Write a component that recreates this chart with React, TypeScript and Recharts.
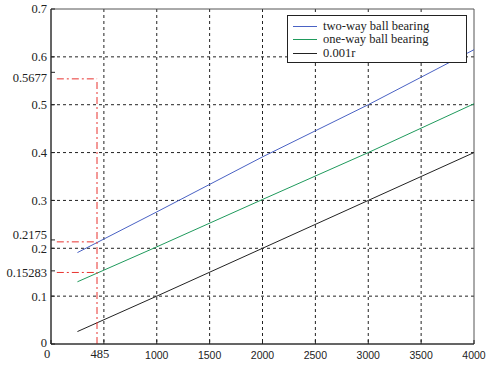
import { LineChart, Line, XAxis, YAxis, CartesianGrid, ReferenceLine, ReferenceArea, Legend } from "recharts";

// shaft speed r (rpm) and friction values
const rValues = [250, 1000, 2000, 3000, 4000];
const twoWay = [0.191, 0.276, 0.391, 0.5, 0.615];
const oneWay = [0.13, 0.203, 0.302, 0.4, 0.502];
const ref001 = [0.026, 0.1, 0.2, 0.3, 0.4];

const xTicks = [0, 500, 1000, 1500, 2000, 2500, 3000, 3500, 4000];
const xTickLabels = ["0", "485", "1000", "1500", "2000", "2500", "3000", "3500", "4000"];
const yTicks = [0, 0.1, 0.15283, 0.2, 0.2175, 0.3, 0.4, 0.5, 0.5677, 0.6, 0.7];
const gridX = [500, 1000, 1500, 2000, 2500, 3000, 3500];
const gridY = [0.1, 0.2, 0.3, 0.4, 0.5, 0.6];

// red dash-dot marker lines (where they sit in the picture)
const markerX = 435;
const markerStartX = 55;
const markerYs = [0.554, 0.2134, 0.1495];

const series = [
  { key: "twoWay", name: "two-way ball bearing", color: "#4a62c4" },
  { key: "oneWay", name: "one-way ball bearing", color: "#1f9a5c" },
  { key: "ref001", name: "0.001r", color: "#222" },
];

const rows = rValues.map((r, i) => ({ r, twoWay: twoWay[i], oneWay: oneWay[i], ref001: ref001[i] }));

const serif = "Liberation Serif, Times New Roman, serif";
const sans = "Liberation Sans Narrow, Liberation Sans, sans-serif";

// the hand-placed labels sit a little off their values in the original
const yLabelNudge: Record<string, number> = { "0": -1.5, "0.2175": -5.5, "0.5677": 5, "0.15283": 1.5 };

function XTick(props: any) {
  const { x, y, payload } = props;
  const idx = xTicks.indexOf(payload.value);
  const label = xTickLabels[idx] ?? String(payload.value);
  const isSerif = idx <= 1;
  return (
    <g>
      <line x1={x} x2={x} y1={y} y2={y - 4} stroke="#222" />
      <text
        x={isSerif ? x - 4 : x}
        y={isSerif ? y + 14 : y + 15}
        textAnchor="middle"
        fontFamily={isSerif ? serif : sans}
        fontSize={isSerif ? 12.5 : 10.5}
        fill="#222"
      >
        {label}
      </text>
    </g>
  );
}

function YTick(props: any) {
  const { x, y, payload } = props;
  const label = String(payload.value);
  const dy = yLabelNudge[label] ?? 0;
  return (
    <g>
      <line x1={x} x2={x + 4} y1={y} y2={y} stroke="#222" />
      <text x={x - 4} y={y + dy} dy="0.35em" textAnchor="end" fontFamily={serif} fontSize={12.5} fill="#222">
        {label}
      </text>
    </g>
  );
}

function LegendBox() {
  return (
    <div
      style={{
        width: 180,
        height: 48,
        border: "1px solid #222",
        background: "#fff",
        boxSizing: "border-box",
        padding: "4px 0 0 5px",
        fontFamily: serif,
        fontSize: 12.5,
        lineHeight: "13px",
        color: "#222",
      }}
    >
      {series.map((s) => (
        <div key={s.key} style={{ display: "flex", alignItems: "center", height: 13.3 }}>
          <span style={{ display: "inline-block", width: 24, height: 1, background: s.color, marginRight: 6 }} />
          <span>{s.name}</span>
        </div>
      ))}
    </div>
  );
}

export default function App() {
  return (
    <div style={{ position: "fixed", left: 0, top: 0, width: 487, height: 366, background: "#fff" }}>
      <LineChart width={487} height={366} data={rows} margin={{ top: 9, right: 13, bottom: 0, left: 0 }}>
        <CartesianGrid
          stroke="#222"
          strokeDasharray="3 3"
          horizontalValues={gridY}
          verticalValues={gridX}
        />
        <XAxis
          dataKey="r"
          type="number"
          domain={[0, 4000]}
          ticks={xTicks}
          interval={0}
          height={22}
          tickSize={0}
          tickMargin={0}
          tickLine={false}
          axisLine={{ stroke: "#222" }}
          tick={<XTick />}
        />
        <YAxis
          type="number"
          domain={[0, 0.7]}
          ticks={yTicks}
          interval={0}
          width={51}
          tickSize={0}
          tickMargin={0}
          tickLine={false}
          axisLine={{ stroke: "#222" }}
          tick={<YTick />}
        />
        <ReferenceArea x1={0} x2={4000} y1={0} y2={0.7} fill="none" stroke="#555" strokeWidth={1} />
        {series.map((s) => (
          <Line
            key={s.key}
            type="linear"
            dataKey={s.key}
            name={s.name}
            stroke={s.color}
            strokeWidth={1}
            dot={false}
            isAnimationActive={false}
          />
        ))}
        {markerYs.map((v) => (
          <ReferenceLine
            key={v}
            segment={[{ x: markerStartX, y: v }, { x: markerX, y: v }]}
            stroke="#e8332f"
            strokeDasharray="7 3 2 3"
          />
        ))}
        <ReferenceLine
          segment={[{ x: markerX, y: 0 }, { x: markerX, y: markerYs[0] }]}
          stroke="#e8332f"
          strokeDasharray="7 3 2 3"
        />
        <Legend
          layout="horizontal"
          verticalAlign="middle"
          align="center"
          wrapperStyle={{ position: "absolute", top: 15, left: 287, width: 180, height: 48 }}
          content={() => <LegendBox />}
        />
      </LineChart>
    </div>
  );
}
